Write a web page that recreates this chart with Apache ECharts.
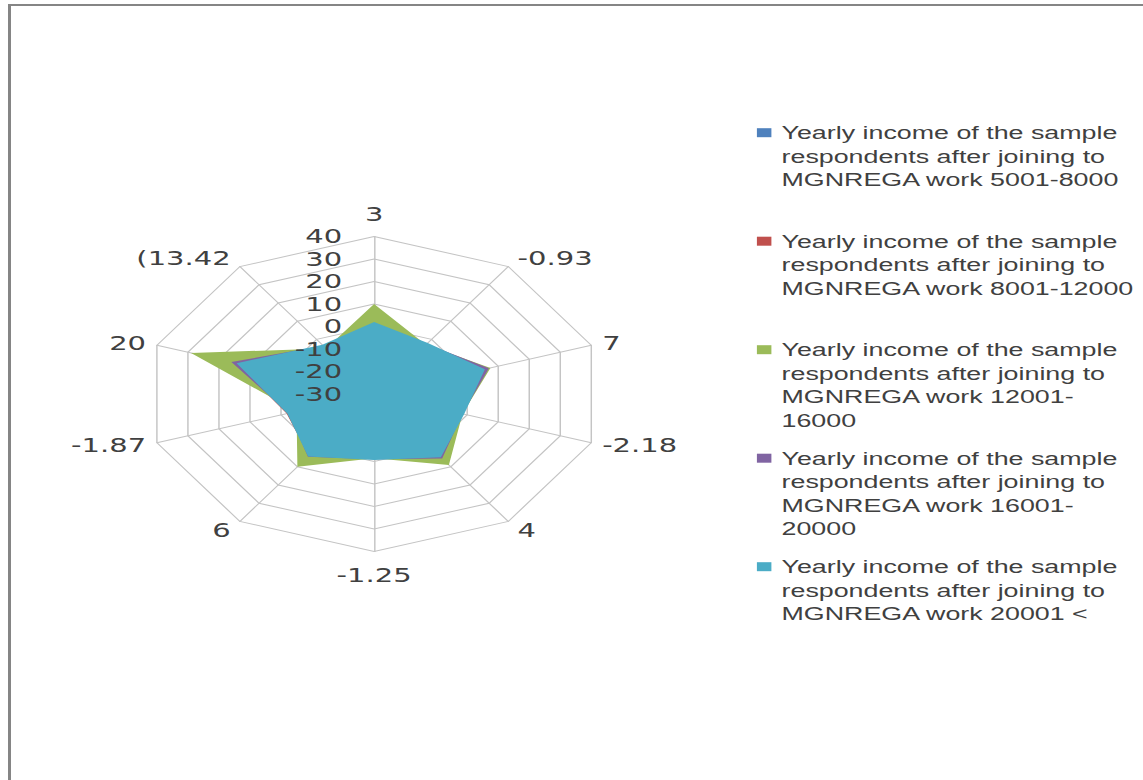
<!DOCTYPE html>
<html>
<head>
<meta charset="utf-8">
<script src="https://cdn.jsdelivr.net/npm/echarts@6/dist/echarts.min.js"></script>
<style>
  html, body { margin: 0; padding: 0; background: #fff; overflow: hidden; }
  #frame { position: absolute; left: 8px; top: 4px; right: 0; bottom: 0; border-left: 3px solid #858585; border-top: 2px solid #858585; }
  /* the original picture is stretched sideways, so the whole chart is too */
  #radar-chart { position: absolute; left: 0; top: 0; width: 788px; height: 780px; transform: scaleX(1.45); transform-origin: 0 0; }
</style>
</head>
<body>
<div id="frame"></div>
<div id="radar-chart"></div>
<script>
// spokes, clockwise from the top
const categories = ['3', '-0.93', '7', '-2.18', '4', '-1.25', '6', '-1.87', '20', '(13.42'];

const income5001to8000 = [0, -4, 4, -3, 3, -2, 3, -3, 12, -5];
const income8001to12000 = [1, -3, 5, -2, 4, -1.5, 4, -1.8, 14.5, -4];
const income12001to16000 = [10, -3, 7.5, -1.5, 9, -1.5, 10, -5, 29, -5];
const income16001to20000 = [1, -2.5, 7, -1.5, 5.5, -1, 4.5, -2.5, 16, -3.5];
const income20001plus = [2, -2, 5.7, -1, 4.8, -0.7, 4.4, -2, 14.3, -3];

const seriesNames = [
  'Yearly income of the sample\nrespondents after joining to\nMGNREGA work 5001-8000',
  'Yearly income of the sample\nrespondents after joining to\nMGNREGA work 8001-12000',
  'Yearly income of the sample\nrespondents after joining to\nMGNREGA work 12001-\n16000',
  'Yearly income of the sample\nrespondents after joining to\nMGNREGA work 16001-\n20000',
  'Yearly income of the sample\nrespondents after joining to\nMGNREGA work 20001 <'
];
const seriesValues = [income5001to8000, income8001to12000, income12001to16000, income16001to20000, income20001plus];

const axisMin = -30;
const axisMax = 40;
const axisSplits = 7;

const colors = ['#4F81BD', '#C0504D', '#9BBB59', '#8064A2', '#4BACC6'];
const textColor = '#404040';
const gridColor = '#c4c4c4';
const lineH = 23.6;

// echarts lays radar spokes out counter-clockwise, excel clockwise
const ccw = arr => [arr[0]].concat(arr.slice(1).reverse());

// names beside the side spokes sit closer than the ones above/below
const indicators = ccw(categories).map((name, i) => ({
  name: name,
  min: axisMin,
  max: axisMax,
  nameGap: 6 + 6 * Math.abs(Math.cos(i * 2 * Math.PI / categories.length)) + (i === 5 ? 2 : 0)
}));

const radarBase = {
  center: [258, 394],
  radius: 157.5,
  startAngle: 90,
  splitNumber: axisSplits,
  shape: 'polygon'
};

// excel puts the swatch next to the first line, so it is drawn inside the text
const legendText = name => name.split('\n')
  .map((line, k) => (k === 0 ? '{sq|}{gap|}' : '{ind|}') + '{t|' + line + '}')
  .join('\n');

const chart = echarts.init(document.getElementById('radar-chart'), null, { renderer: 'svg' });

chart.setOption({
  animation: false,
  backgroundColor: 'transparent',
  radar: [
    Object.assign({}, radarBase, {
      indicator: indicators,
      nameGap: 12,
      axisName: { color: textColor, fontSize: 20, fontFamily: 'DejaVu Sans' },
      splitLine: { lineStyle: { color: gridColor, width: 1 } },
      splitArea: { show: false },
      axisLine: { lineStyle: { color: gridColor, width: 1 } },
      axisTick: { show: false },
      axisLabel: { show: false },
      z: 0
    }),
    // second copy only for the value labels, so they sit above the filled areas
    Object.assign({}, radarBase, {
      indicator: indicators.map((ind, i) => Object.assign({}, ind, { axisLabel: { show: i === 0 } })),
      axisName: { show: false },
      splitLine: { show: false },
      splitArea: { show: false },
      axisLine: { show: false },
      axisTick: { show: false },
      axisLabel: { show: false, color: textColor, fontSize: 20, fontFamily: 'DejaVu Sans', margin: 22 },
      z: 5
    })
  ],
  legend: seriesNames.map((name, i) => ({
    data: [name],
    orient: 'vertical',
    left: 517,
    top: 135 + i * 108.5 - lineH / 2,
    padding: 0,
    itemWidth: 0,
    itemHeight: 0,
    itemStyle: { opacity: 0 },
    selectedMode: false,
    formatter: legendText,
    textStyle: {
      rich: {
        sq: { width: 10, height: 9, backgroundColor: colors[i], verticalAlign: 'middle' },
        gap: { width: 7 },
        ind: { width: 17 },
        t: { color: textColor, fontSize: 18.5, fontFamily: 'Liberation Sans', lineHeight: lineH }
      }
    }
  })),
  series: seriesNames.map((name, i) => ({
    type: 'radar',
    radarIndex: 0,
    name: name,
    symbol: 'none',
    itemStyle: { color: colors[i] },
    lineStyle: { width: 0 },
    areaStyle: { color: colors[i], opacity: 1 },
    data: [{ name: name, value: ccw(seriesValues[i]) }]
  }))
});
</script>
</body>
</html>
